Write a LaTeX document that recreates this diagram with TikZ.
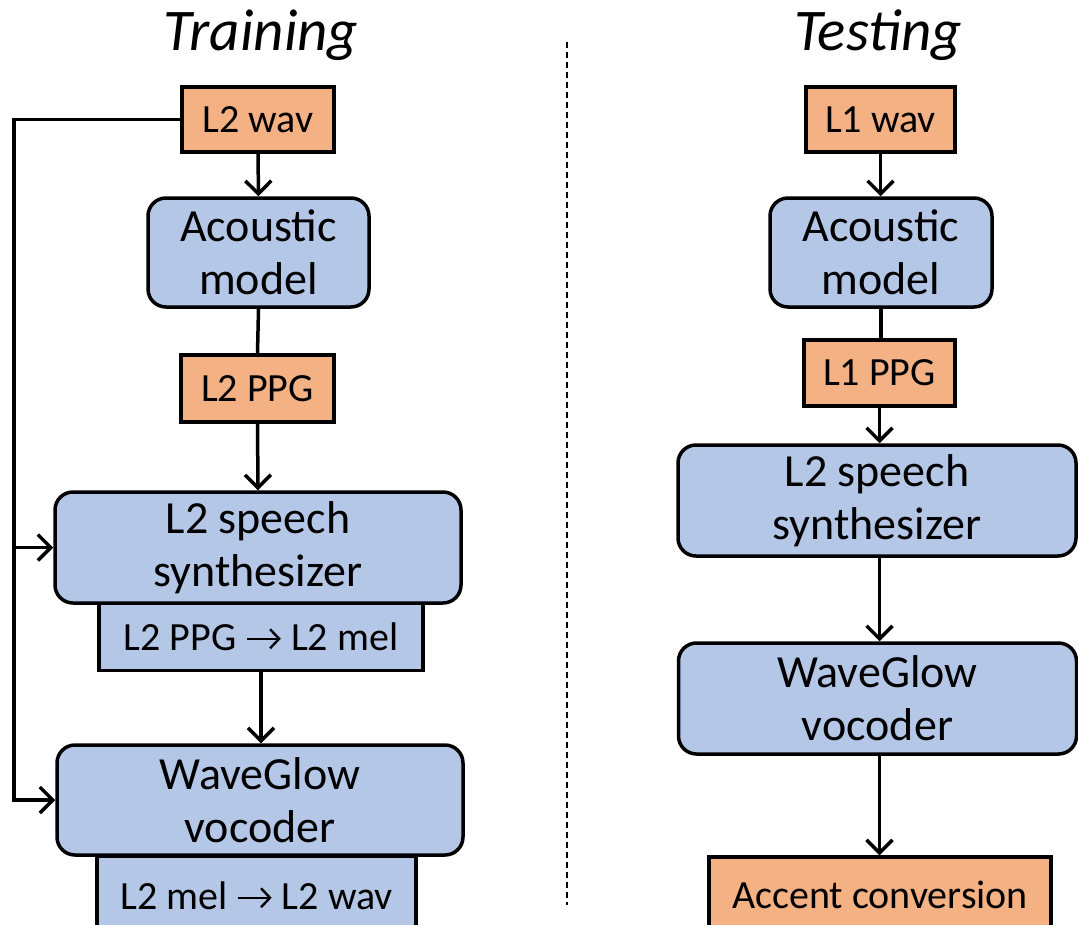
\documentclass[tikz,border=0pt]{standalone}
\usepackage{fontspec}
\setmainfont{Carlito}
\usetikzlibrary{arrows.meta}
\newcommand{\rarr}{\tikz[x=1pt,y=1pt,baseline=0pt]{\draw[line width=2.4pt,line cap=butt,-{Straight Barb[length=9pt,width=19pt,line width=2.4pt]}] (0,12) -- (34,12);}}
\definecolor{orbox}{HTML}{F4B183}
\definecolor{blbox}{HTML}{B4C7E7}
\tikzset{
  arr/.style={line width=3.5pt,-{Straight Barb[length=13pt,width=26pt,line width=3.5pt]}},
  ln/.style={line width=3.5pt},
  orng/.style={draw,line width=3.5pt,fill=orbox,inner sep=0pt,font=\fontsize{40}{46}\selectfont},
  blue/.style={draw,line width=3.5pt,fill=blbox,rounded corners=18pt,inner sep=0pt,align=center,font=\fontsize{46}{53}\selectfont},
  subbox/.style={draw,line width=3.5pt,fill=blbox,inner sep=0pt,font=\fontsize{40}{46}\selectfont},
  ttl/.style={font=\fontsize{59}{64}\selectfont\itshape}
}
\begin{document}
\begin{tikzpicture}[x=1pt,y=-1pt]
\clip (0,0) rectangle (1078,924);
% titles
\node[ttl] (t1) at (261,35) {Training};
\node[ttl] (t2) at (878,35) {Testing};
% divider
\coordinate (d1) at (567,42);
\coordinate (d2) at (567,905);
\draw[line width=1.5pt,dash pattern=on 6pt off 4pt] (d1) -- (d2);
% left column
\node[orng,minimum width=152pt,minimum height=65pt] (l2wav) at (258,119.5) {L2 wav};
\node[blue,minimum width=221pt,minimum height=109pt] (am1) at (258.5,252.5) {Acoustic\\model};
\node[orng,minimum width=153pt,minimum height=67pt] (ppg2) at (257.5,388.5) {L2 PPG};
\node[subbox,minimum width=324pt,minimum height=67pt] (sub1) at (261,637) {L2 PPG \rarr{} L2 mel};
\node[blue,minimum width=406pt,minimum height=111pt] (syn1) at (258,547.5) {L2 speech\\synthesizer};
\node[subbox,minimum width=319pt,minimum height=80pt] (sub2) at (256.5,896) {L2 mel \rarr{} L2 wav};
\node[blue,minimum width=406pt,minimum height=110pt] (wg1) at (260,800) {WaveGlow\\vocoder};
\draw[arr] (l2wav.south) -- (am1.north);
\draw[ln] (am1.south) -- (ppg2.north);
\draw[arr] (ppg2.south) -- (syn1.north);
\draw[arr] (sub1.south) -- (sub1.south |- wg1.north);
\coordinate (c1) at (14,119.5);
\coordinate (c2) at (14,547.5);
\coordinate (c3) at (14,800);
\draw[arr,line join=miter] (l2wav.west) -- (c1) -- (c3) -- (wg1.west);
\draw[arr] (c2) -- (syn1.west);
% right column
\node[orng,minimum width=149pt,minimum height=65pt] (l1wav) at (880.5,119.5) {L1 wav};
\node[blue,minimum width=222pt,minimum height=109pt] (am2) at (881,252.5) {Acoustic\\model};
\node[orng,minimum width=151pt,minimum height=66pt] (ppg1) at (879.5,373) {L1 PPG};
\node[blue,minimum width=398pt,minimum height=111pt] (syn2) at (877,500.5) {L2 speech\\synthesizer};
\node[blue,minimum width=398pt,minimum height=111pt] (wg2) at (877.5,698.5) {WaveGlow\\vocoder};
\node[orng,minimum width=342pt,minimum height=76pt] (acc) at (880,895) {Accent conversion};
\draw[arr] (l1wav.south) -- (l1wav.south |- am2.north);
\draw[ln] (am2.south) -- (am2.south |- ppg1.north);
\draw[arr] (ppg1.south) -- (ppg1.south |- syn2.north);
\draw[arr] (ppg1.south |- syn2.south) -- (ppg1.south |- wg2.north);
\draw[arr] (ppg1.south |- wg2.south) -- (ppg1.south |- acc.north);
\end{tikzpicture}
\end{document}
